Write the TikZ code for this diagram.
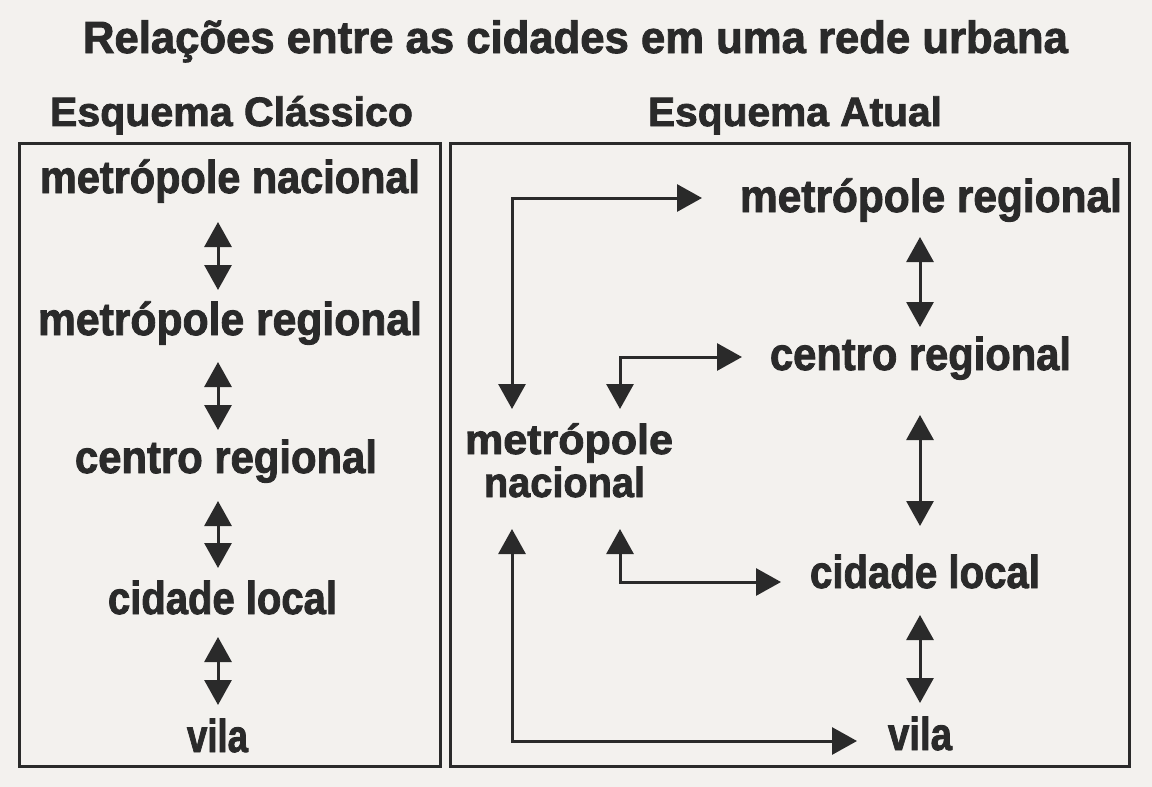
\documentclass[tikz,border=0pt]{standalone}
\usepackage{fontspec}
\setmainfont{Liberation Sans}[BoldFeatures={FakeBold=2}]
\usepackage{graphicx}
\usetikzlibrary{arrows.meta}
\definecolor{ink}{RGB}{42,42,42}
\definecolor{paper}{RGB}{243,241,238}
\newcommand\fitw[2]{\resizebox{#1}{\height}{#2}}
\tikzset{
  lbl/.style={anchor=base west, inner sep=0pt, outer sep=0pt, text=ink, font=\fontsize{23}{26}\selectfont\bfseries},
  twolbl/.style={lbl, font=\fontsize{21}{24}\selectfont\bfseries},
  headlbl/.style={lbl, font=\fontsize{20.5}{24}\selectfont\bfseries},
  ttl/.style={lbl, font=\fontsize{22.5}{26}\selectfont\bfseries},
  frame/.style={draw=ink, line width=1.5pt},
  link/.style={draw=ink, line width=1.5pt,
    {Triangle[length=12.5pt,width=13.5pt]}-{Triangle[length=12.5pt,width=13.5pt]}},
}
\begin{document}
\begin{tikzpicture}[x=0.5pt, y=-0.5pt]
\fill[paper] (0,0) rectangle (1152,787);
\useasboundingbox (0,0) rectangle (1152,787);

% title and headings
\node[ttl] (title) at (83,53) {\fitw{492.5pt}{Relações entre as cidades em uma rede urbana}};
\node[headlbl] (hl) at (50,126) {\fitw{181.5pt}{Esquema Clássico}};
\node[headlbl] (hr) at (648,126) {\fitw{147pt}{Esquema Atual}};

% frames
\draw[frame] (19,143) rectangle (440,766);
\draw[frame] (450,143) rectangle (1129,766);

% left column
\node[lbl] (lmn) at (40,193) {\fitw{190pt}{metrópole nacional}};
\node[lbl] (lmr) at (38,335) {\fitw{192pt}{metrópole regional}};
\node[lbl] (lcr) at (75,473) {\fitw{151pt}{centro regional}};
\node[lbl] (lcl) at (108,614) {\fitw{114.5pt}{cidade local}};
\node[lbl] (lvi) at (187,752) {\fitw{30.5pt}{vila}};

\coordinate (l1a) at (218,222); \coordinate (l1b) at (218,290);
\coordinate (l2a) at (218,362); \coordinate (l2b) at (218,430);
\coordinate (l3a) at (218,501); \coordinate (l3b) at (218,568);
\coordinate (l4a) at (218,637); \coordinate (l4b) at (218,705);
\draw[link] (l1a) -- (l1b);
\draw[link] (l2a) -- (l2b);
\draw[link] (l3a) -- (l3b);
\draw[link] (l4a) -- (l4b);

% right column
\node[lbl] (rmr) at (740,212) {\fitw{191pt}{metrópole regional}};
\node[lbl] (rcr) at (770,370) {\fitw{150.5pt}{centro regional}};
\node[lbl] (rcl) at (810,588) {\fitw{115pt}{cidade local}};
\node[lbl] (rvi) at (888,750) {\fitw{32pt}{vila}};
\node[twolbl] (rmn1) at (465,454) {\fitw{104pt}{metrópole}};
\node[twolbl] (rmn2) at (484,497) {\fitw{80.5pt}{nacional}};

\coordinate (r1a) at (920,237); \coordinate (r1b) at (920,327);
\coordinate (r2a) at (920,415); \coordinate (r2b) at (920,526);
\coordinate (r3a) at (920,615); \coordinate (r3b) at (920,703);
\draw[link] (r1a) -- (r1b);
\draw[link] (r2a) -- (r2b);
\draw[link] (r3a) -- (r3b);

\coordinate (e1a) at (512,409); \coordinate (e1b) at (702,198);
\coordinate (e2a) at (620,409); \coordinate (e2b) at (742,357);
\coordinate (e3a) at (512,529); \coordinate (e3b) at (857,741);
\coordinate (e4a) at (620,529); \coordinate (e4b) at (781,582);
\draw[link] (e1a) |- (e1b);
\draw[link] (e2a) |- (e2b);
\draw[link] (e3a) |- (e3b);
\draw[link] (e4a) |- (e4b);
\end{tikzpicture}
\end{document}
